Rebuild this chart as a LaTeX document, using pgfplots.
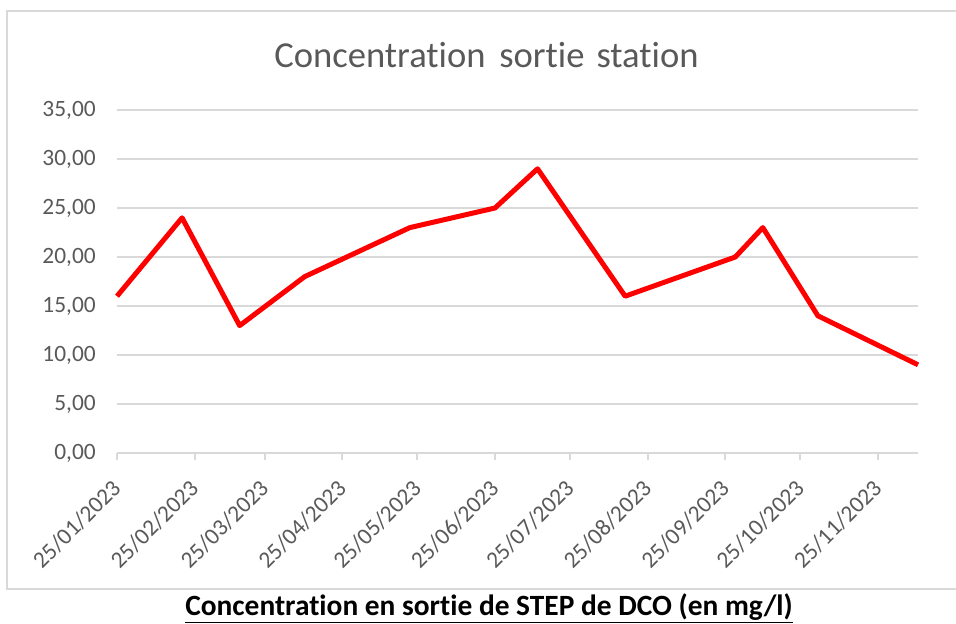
\documentclass[border=0pt]{standalone}
\usepackage{pgfplots}
\pgfplotsset{compat=1.18}
\usepackage{fontspec}
\setmainfont{Carlito}[Ligatures={NoCommon,NoRequired,NoContextual}]
\definecolor{gridgray}{HTML}{D9D9D9}
\definecolor{txtgray}{HTML}{595959}
\begin{document}
\begin{tikzpicture}
\begin{scope}[x=0.5pt,y=-0.5pt]
\path[use as bounding box] (0,0) rectangle (956,624);
\draw[gridgray, line width=1pt] (956,11) -- (7,11) -- (7,589) -- (956,589);
\node[anchor=base, text=txtgray, font=\fontsize{18.3}{22}\selectfont, inner sep=0pt] at (486.5,68) {Concentration\hspace{0.15em} sortie\hspace{0.1em} station};
\node[anchor=base, font=\fontsize{14.7}{18}\selectfont\bfseries, inner sep=0pt] at (489,615) {\underline{Concentration en sortie de STEP de DCO (en mg/l)}};
\end{scope}
\begin{axis}[
  at={(58.5pt,-226.5pt)}, anchor=south west,
  scale only axis, width=400.5pt, height=171.5pt,
  xmin=0, xmax=320, ymin=0, ymax=35,
  xtick={0,31,59,90,120,151,181,212,243,273,304},
  xticklabels={25/01/2023,25/02/2023,25/03/2023,25/04/2023,25/05/2023,25/06/2023,25/07/2023,25/08/2023,25/09/2023,25/10/2023,25/11/2023},
  ytick={0,5,10,15,20,25,30,35},
  y tick label style={/pgf/number format/fixed, /pgf/number format/fixed zerofill, /pgf/number format/precision=2, /pgf/number format/use comma, /pgf/number format/1000 sep={}},
  /pgf/number format/assume math mode=true,
  ymajorgrids, grid style={gridgray, line width=1pt},
  axis x line*=bottom, axis y line*=left,
  separate axis lines,
  x axis line style={gridgray, line width=1pt},
  y axis line style={draw=none},
  xtick style={gridgray, line width=1pt},
  ytick style={draw=none},
  tick align=outside, major tick length=3.5pt,
  tick label style={text=txtgray, font=\fontsize{11.7}{14}\selectfont},
  xticklabel style={rotate=45, anchor=east, inner sep=0pt},
  xticklabel shift=12pt,
  yticklabel style={xshift=-3.6pt},
  clip=false,
]
\addplot[red, line width=2.5pt, line join=round] coordinates {
(0,16) (26,24) (49,13) (75,18) (117,23) (151,25) (168,29) (203,16) (247,20) (258,23) (280,14) (320,9)
};
\end{axis}
\end{tikzpicture}
\end{document}
